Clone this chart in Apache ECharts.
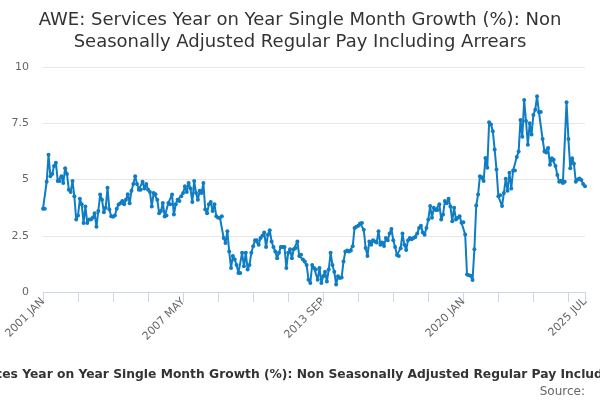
<!DOCTYPE html>
<html>
<head>
<meta charset="utf-8">
<script src="https://cdn.jsdelivr.net/npm/echarts@6/dist/echarts.min.js"></script>
<style>
    html, body { margin: 0; padding: 0; background: #fff; }
    #chart { width: 600px; height: 400px; }
</style>
</head>
<body>
<div id="chart"></div>
<script>
var monthNames = ['JAN', 'FEB', 'MAR', 'APR', 'MAY', 'JUN', 'JUL', 'AUG', 'SEP', 'OCT', 'NOV', 'DEC'];
var firstYear = 2001;

// monthly values, one row per year (2001 JAN .. 2025 JUL)
var values = [
    3.7, 3.7, 4.9, 6.1, 5.15, 5.25, 5.6, 5.74, 4.93, 4.93, 5.15, 4.85,
    5.5, 5.25, 4.55, 4.45, 4.93, 4.26, 3.22, 3.4, 4.14, 3.9, 3.07, 3.8,
    3.07, 3.22, 3.22, 3.3, 3.5, 2.9, 3.6, 4.33, 4.1, 3.55, 3.74, 4.63,
    3.67, 3.37, 3.35, 3.4, 3.7, 3.89, 3.95, 4.04, 3.9, 4.1, 4.35, 3.95,
    4.5, 4.8, 5.15, 4.8, 4.55, 4.55, 4.9, 4.6, 4.8, 4.55, 4.45, 3.8,
    4.4, 4.35, 4.1, 3.5, 3.6, 3.96, 3.36, 3.4, 3.96, 3.9, 4.33, 3.44,
    3.9, 4.1, 4.05, 4.26, 4.4, 4.7, 4.45, 4.85, 4.6, 4.0, 4.93, 4.4,
    4.1, 4.5, 4.4, 4.85, 3.67, 3.5, 3.9, 4.0, 3.6, 3.9, 3.37, 3.3,
    3.3, 3.37, 2.4, 2.18, 2.7, 1.8, 1.07, 1.6, 1.44, 1.2, 0.85, 0.85,
    1.74, 1.14, 1.74, 1.0, 1.2, 1.74, 2.03, 2.3, 2.3, 2.1, 2.4, 2.5,
    2.65, 2.0, 2.55, 2.75, 2.25, 2.0, 1.8, 1.5, 1.74, 2.0, 2.0, 2.0,
    1.07, 1.74, 1.9, 1.5, 1.9, 1.96, 2.25, 1.6, 1.66, 1.44, 1.36, 1.2,
    0.55, 0.4, 1.2, 1.07, 1.0, 0.55, 1.07, 0.4, 0.7, 0.9, 0.47, 1.0,
    1.74, 1.2, 0.9, 0.33, 0.7, 0.62, 0.65, 1.36, 1.8, 1.85, 1.8, 1.85,
    2.03, 2.85, 2.9, 2.95, 3.05, 3.07, 2.77, 1.96, 1.6, 2.25, 2.1, 2.3,
    2.25, 2.2, 2.7, 2.1, 2.2, 2.05, 2.4, 2.3, 2.6, 2.8, 2.3, 2.0,
    1.64, 1.6, 1.95, 2.6, 2.1, 1.87, 2.3, 2.4, 2.35, 2.4, 2.45, 2.6,
    2.85, 2.95, 2.65, 2.55, 2.85, 3.22, 3.82, 3.3, 3.74, 3.65, 3.65, 3.9,
    3.22, 3.45, 4.04, 3.95, 4.14, 3.8, 3.15, 3.74, 3.22, 3.3, 3.37, 3.08,
    3.1, 2.56, 0.78, 0.75, 0.72, 0.53, 1.9, 3.85, 4.33, 5.15, 5.1, 4.93,
    5.96, 5.52, 7.54, 7.44, 7.15, 6.33, 5.44, 4.26, 4.3, 3.82, 4.4, 5.03,
    4.5, 5.3, 4.6, 5.4, 5.4, 6.0, 6.25, 7.65, 6.9, 8.53, 7.6, 6.54,
    7.5, 7.0, 7.87, 8.1, 8.7, 8.0, 8.0, 6.8, 6.25, 6.2, 6.4, 5.66,
    5.95, 5.88, 5.6, 5.2, 4.9, 4.95, 4.85, 4.9, 8.43, 6.8, 5.5, 5.95,
    5.7, 4.9, 5.0, 5.05, 4.98, 4.8, 4.7
];

var titleText = 'AWE: Services Year on Year Single Month Growth (%): Non\nSeasonally Adjusted Regular Pay Including Arrears';
var footText = 'AWE: Services Year on Year Single Month Growth (%): Non Seasonally Adjusted Regular Pay Including Arrears';
var sourceText = 'Source:';

var categories = [];
for (var i = 0; i < values.length; i++) {
    categories.push((firstYear + Math.floor(i / 12)) + ' ' + monthNames[i % 12]);
}
var lastIndex = values.length - 1;
var lineColor = '#0f7dc4';

var option = {
    animation: false,
    textStyle: { fontFamily: 'DejaVu Sans' },
    title: [
        {
            text: titleText,
            left: 'center',
            top: 4,
            textStyle: { fontSize: 18, fontWeight: 'normal', color: '#333', lineHeight: 22 }
        },
        {
            text: footText,
            left: 'center',
            top: 364,
            textStyle: { fontSize: 12.3, fontWeight: 'bold', color: '#333' }
        },
        {
            text: sourceText,
            right: 10,
            top: 381,
            textStyle: { fontSize: 12, fontWeight: 'normal', color: '#666' }
        }
    ],
    grid: { left: 43, right: 15, top: 67, bottom: 108 },
    xAxis: {
        type: 'category',
        data: categories,
        boundaryGap: false,
        axisLine: { lineStyle: { color: '#ccd6eb' } },
        axisTick: {
            length: 10,
            lineStyle: { color: '#ccd6eb' },
            interval: function (idx) { return idx % 19 === 0 || idx === lastIndex; }
        },
        axisLabel: {
            rotate: 45,
            color: '#666',
            fontSize: 11,
            margin: 8,
            interval: function (idx) { return idx % 76 === 0 || idx === lastIndex; }
        },
        splitLine: { show: false }
    },
    yAxis: {
        type: 'value',
        min: 0,
        max: 10,
        interval: 2.5,
        axisLine: { show: false },
        axisTick: { show: false },
        axisLabel: { color: '#666', fontSize: 11, margin: 14 },
        splitLine: { lineStyle: { color: '#e6e6e6' } }
    },
    series: [
        {
            name: 'AWE',
            type: 'line',
            data: values,
            symbol: 'circle',
            symbolSize: 4,
            showAllSymbol: true,
            lineStyle: { color: lineColor, width: 2 },
            itemStyle: { color: lineColor }
        }
    ]
};

var chart = echarts.init(document.getElementById('chart'));
chart.setOption(option);
</script>
</body>
</html>
